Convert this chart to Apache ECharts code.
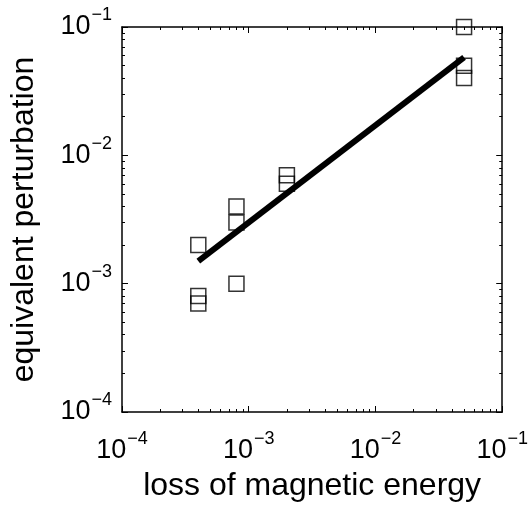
<!DOCTYPE html>
<html>
<head>
<meta charset="utf-8">
<script src="https://cdn.jsdelivr.net/npm/echarts@6/dist/echarts.min.js"></script>
<style>
  html, body { margin: 0; padding: 0; background: #fff; }
  #chart { width: 531px; height: 510px; }
</style>
</head>
<body>
<div id="chart"></div>
<script>
// measured points: loss of magnetic energy vs equivalent perturbation
var lossValues = [0.0004, 0.0004, 0.0004, 0.0008, 0.0008, 0.0008, 0.002, 0.002, 0.05, 0.05, 0.05];
var pertValues = [0.002, 0.0008, 0.0007, 0.004, 0.003, 0.001, 0.007, 0.006, 0.1, 0.05, 0.04];
// fitted line end points
var fitX = [0.0004, 0.05];
var fitY = [0.0015, 0.058];
// tick positions
var decades = [1e-4, 1e-3, 1e-2];
var minorSteps = [2, 3, 4, 5, 6, 7, 8, 9];

var font = 'Liberation Sans, Arial, Helvetica, sans-serif';

var minorValues = [];
decades.forEach(function (d) {
    minorSteps.forEach(function (m) { minorValues.push(d * m); });
});

function powLabel(v) {
    var e = Math.round(Math.log10(v));
    return '{b|10}{s|' + (e < 0 ? '\u2212' + (-e) : e) + '}';
}
function richLbl() {
    // tall line for the base so the exponent sits raised at the top
    return {
        b: { fontSize: 27, fontFamily: font, color: '#000', lineHeight: 41, verticalAlign: 'middle' },
        s: { fontSize: 18, fontFamily: font, color: '#000', lineHeight: 18, verticalAlign: 'top', padding: [0, 0, 0, 1] }
    };
}

var chart = echarts.init(document.getElementById('chart'));

function logAxis(pos, extra) {
    var ax = {
        type: 'log',
        logBase: 10,
        min: 1e-4,
        max: 1e-1,
        position: pos,
        axisLine: { show: true, onZero: false, lineStyle: { color: '#000', width: 1.5 } },
        axisTick: { show: true, inside: true, length: 6, lineStyle: { color: '#000', width: 1 } },
        splitLine: { show: false },
        axisLabel: { show: false }
    };
    for (var k in extra) ax[k] = extra[k];
    return ax;
}
function minorAxis(pos) {
    return logAxis(pos, {
        axisLine: { show: false },
        axisTick: { show: true, inside: true, length: 3, customValues: minorValues, lineStyle: { color: '#000', width: 1 } }
    });
}

var scatterData = lossValues.map(function (x, i) { return [x, pertValues[i]]; });
var fitData = fitX.map(function (x, i) { return [x, fitY[i]]; });

var option = {
    backgroundColor: '#fff',
    animation: false,
    grid: { left: 118, right: 28, top: 27, bottom: 98, containLabel: false },
    xAxis: [
        logAxis('bottom', {
            name: 'loss of magnetic energy',
            nameLocation: 'middle',
            nameGap: 58,
            nameTextStyle: { fontSize: 32, fontFamily: font, color: '#000' },
            axisLabel: { show: true, formatter: powLabel, rich: richLbl(), margin: 18 }
        }),
        logAxis('top', {}),
        minorAxis('bottom'),
        minorAxis('top')
    ],
    yAxis: [
        logAxis('left', {
            name: 'equivalent perturbation',
            nameLocation: 'middle',
            nameGap: 82,
            nameTextStyle: { fontSize: 32, fontFamily: font, color: '#000' },
            axisLabel: { show: true, formatter: powLabel, rich: richLbl(), margin: 10 }
        }),
        logAxis('right', {}),
        minorAxis('left'),
        minorAxis('right')
    ],
    series: [
        {
            type: 'line',
            data: fitData,
            symbol: 'none',
            lineStyle: { color: '#000', width: 6 },
            z: 3
        },
        {
            type: 'scatter',
            data: scatterData,
            symbol: 'rect',
            symbolSize: 15,
            itemStyle: { color: 'rgba(0,0,0,0)', borderColor: '#000', borderWidth: 1.5 },
            z: 4
        }
    ]
};
chart.setOption(option);
</script>
</body>
</html>
